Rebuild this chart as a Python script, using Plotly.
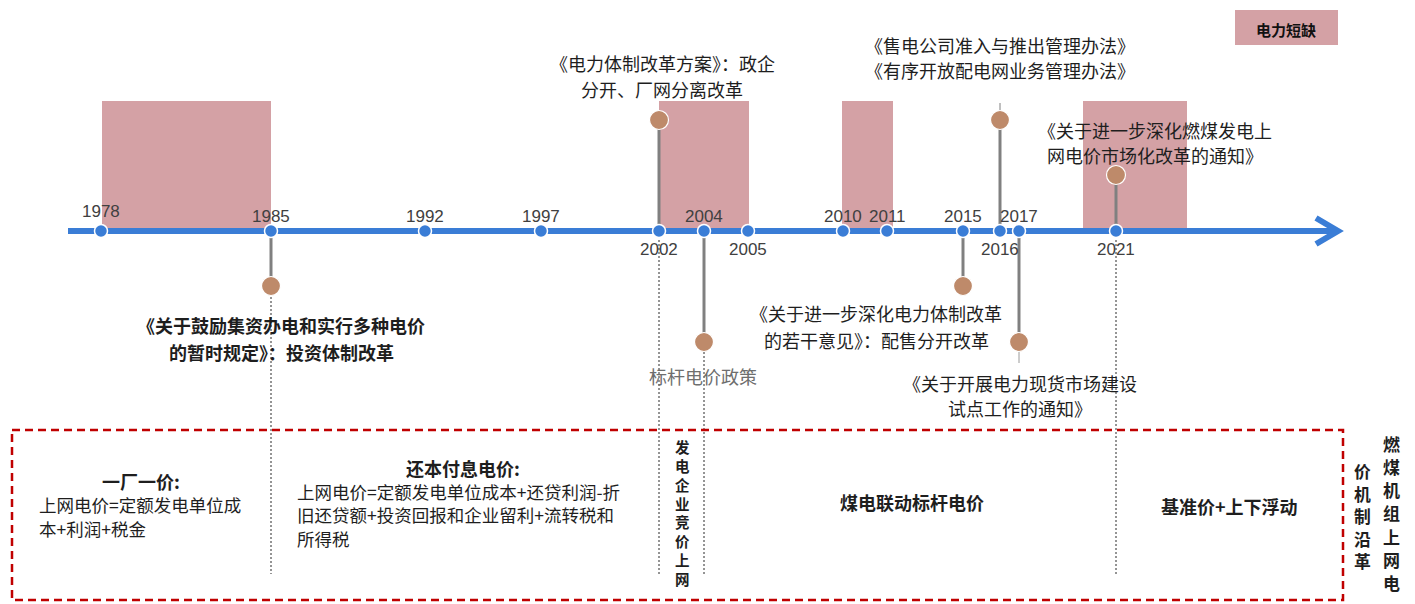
import plotly.graph_objects as go

W, H = 1415, 604
FONT_CJK = "Noto Sans CJK SC"
FONT_NUM = "Liberation Sans"

BLUE = "#3A7DD6"
PINK = "#D4A1A5"
BROWN = "#BE8A6A"
STEM = "#808080"
RED = "#C00000"
TEXT = "#1E1E1E"

# ---- timeline data -------------------------------------------------------
years = [1978, 1985, 1992, 1997, 2002, 2004, 2005, 2010, 2011, 2015, 2016, 2017, 2021]
# schematic placement of each year along the arrow (not to scale)
year_x = [101, 271, 425, 541, 659, 704, 748, 843, 887, 963, 1000, 1019, 1116]
year_label_y = [211, 216, 216, 216, 249, 216, 249, 216, 216, 216, 249, 216, 249]

# power-shortage periods drawn as bands behind the arrow (left, right edge)
shortage_bands = [(102, 271), (659, 749), (842, 893), (1083, 1187)]
shortage_label = "电力短缺"

# policy events attached to the timeline
event_years = [1985, 2002, 2004, 2015, 2016, 2017, 2021]
event_dot_y = [286, 120, 342, 286, 120, 342, 175]
event_lines = [
    ["《关于鼓励集资办电和实行多种电价", "的暂时规定》：投资体制改革"],
    ["《电力体制改革方案》：政企", "分开、厂网分离改革"],
    ["标杆电价政策"],
    ["《关于进一步深化电力体制改革", "的若干意见》：配售分开改革"],
    ["《售电公司准入与推出管理办法》", "《有序开放配电网业务管理办法》"],
    ["《关于开展电力现货市场建设", "试点工作的通知》"],
    ["《关于进一步深化燃煤发电上", "网电价市场化改革的通知》"],
]
event_text_pos = [(281, 325, 27), (662, 63, 26), (703, 376, 0), (876, 313, 27),
                  (1000, 45, 25), (1020, 383, 25), (1155, 130, 25)]
event_bold = [True, False, False, False, False, False, False]
event_color = [TEXT, TEXT, "#6E6E6E", TEXT, TEXT, TEXT, TEXT]

# pricing-mechanism stages shown in the lower panel
stage_bounds_years = [1985, 2002, 2004, 2021]
stage_titles = ["一厂一价:", "还本付息电价:", "发电企业竞价上网", "煤电联动标杆电价", "基准价+上下浮动"]
stage_details = [
    ["上网电价=定额发电单位成", "本+利润+税金"],
    ["上网电价=定额发电单位成本+还贷利润-折", "旧还贷额+投资回报和企业留利+流转税和", "所得税"],
    [], [], [],
]
panel_title_cols = ["燃煤机组上网电", "价机制沿革"]

AXIS_Y = 231
BAND_TOP = 101
BOX = dict(x0=12, x1=1343, y0=430, y1=600)
DOT_BOTTOM = 574

xpos = dict(zip(years, year_x))

shapes = []
annotations = []


def text(x, y, s, size=18, bold=False, color=TEXT, xanchor="center", family=FONT_CJK):
    annotations.append(dict(
        x=x, y=y, xref="x", yref="y", text=f"<b>{s}</b>" if bold else s,
        showarrow=False, xanchor=xanchor, yanchor="middle",
        font=dict(family=family, size=size, color=color),
    ))


def vertical_text(x, y_top, s, size, bold=True):
    # one character per line; plotly spaces lines at 1.3 em
    pitch = 1.3 * size
    yc = y_top + pitch * (len(s) - 1) / 2
    text(x, yc, "<br>".join(s), size=size, bold=bold)


def stacked_chars(x, y_top, s, pitch, size, bold=True):
    for i, ch in enumerate(s):
        text(x, y_top + i * pitch, ch, size=size, bold=bold)


def vline(x, y0, y1, color, width, dash="solid"):
    shapes.append(dict(type="line", x0=x, x1=x, y0=y0, y1=y1, xref="x", yref="y",
                       line=dict(color=color, width=width, dash=dash), layer="below"))


# shortage bands
for l, r in shortage_bands:
    shapes.append(dict(type="rect", x0=l, x1=r, y0=BAND_TOP, y1=AXIS_Y - 3, xref="x", yref="y",
                       fillcolor=PINK, line=dict(width=0), layer="below"))

# legend swatch
shapes.append(dict(type="rect", x0=1235, x1=1338, y0=10, y1=45, xref="x", yref="y",
                   fillcolor=PINK, line=dict(width=0), layer="below"))
text(1286, 29, shortage_label, size=15, bold=True, color="#111111")

# dotted guides down to the stage panel
dot_start = {1985: 297, 2002: 240, 2004: 352, 2021: 240}
for yr in stage_bounds_years:
    vline(xpos[yr], dot_start[yr], DOT_BOTTOM, "#2A2A2A", 1, "2px,2px")

# stems from the axis to event dots
for yr, dy in zip(event_years, event_dot_y):
    vline(xpos[yr], AXIS_Y, dy, STEM, 3)
# short leaders toward the text
vline(xpos[2016], 103, 112, STEM, 1)
vline(xpos[2017], 350, 363, "#9A9A9A", 1)

# axis and arrow head
shapes.append(dict(type="line", x0=68, x1=1334, y0=AXIS_Y, y1=AXIS_Y, xref="x", yref="y",
                   line=dict(color=BLUE, width=6), layer="below"))
shapes.append(dict(type="path", path=f"M 1316 {AXIS_Y-13} L 1338 {AXIS_Y} L 1316 {AXIS_Y+13}",
                   xref="x", yref="y", line=dict(color=BLUE, width=6), layer="below"))

# stage panel
shapes.append(dict(type="rect", xref="x", yref="y", line=dict(color=RED, width=2.5, dash="8px,5px"),
                   layer="above", **BOX))

fig = go.Figure()
# year markers
fig.add_trace(go.Scatter(
    x=year_x, y=[AXIS_Y] * len(year_x), mode="markers", hoverinfo="skip",
    marker=dict(size=13, color=BLUE, line=dict(color="white", width=1.5)),
))
# event dots
fig.add_trace(go.Scatter(
    x=[xpos[y] for y in event_years], y=event_dot_y, mode="markers", hoverinfo="skip",
    marker=dict(size=19, color=BROWN, line=dict(color="white", width=1.2)),
))

# year labels
for yr, x, ly in zip(years, year_x, year_label_y):
    text(x, ly, str(yr), size=17, color="#404040", family=FONT_NUM)

# event texts
for lines, (cx, y0, dy), b, c in zip(event_lines, event_text_pos, event_bold, event_color):
    for i, s in enumerate(lines):
        text(cx, y0 + i * dy, s, size=18, bold=b, color=c)

# stage panel texts
text(141, 481, stage_titles[0], size=18, bold=True)
for i, s in enumerate(stage_details[0]):
    text(37, 504 + i * 24, s, size=17.5, xanchor="left")
text(463, 468, stage_titles[1], size=18, bold=True)
for i, s in enumerate(stage_details[1]):
    text(295, 491 + i * 23.5, s, size=17.5, xanchor="left")
vertical_text(682, 447, stage_titles[2], size=14.5)
text(912, 502, stage_titles[3], size=18, bold=True)
text(1229, 506, stage_titles[4], size=18, bold=True)

# panel title, vertical columns read right to left
stacked_chars(1391, 443, panel_title_cols[0], pitch=23.3, size=17)
stacked_chars(1362, 471, panel_title_cols[1], pitch=22.6, size=16.8)

fig.update_layout(
    width=W, height=H, margin=dict(l=0, r=0, t=0, b=0),
    paper_bgcolor="white", plot_bgcolor="white", showlegend=False,
    xaxis=dict(range=[0, W], visible=False, fixedrange=True),
    yaxis=dict(range=[H, 0], visible=False, fixedrange=True),
    shapes=shapes, annotations=annotations,
)

fig.write_html("out.html")
